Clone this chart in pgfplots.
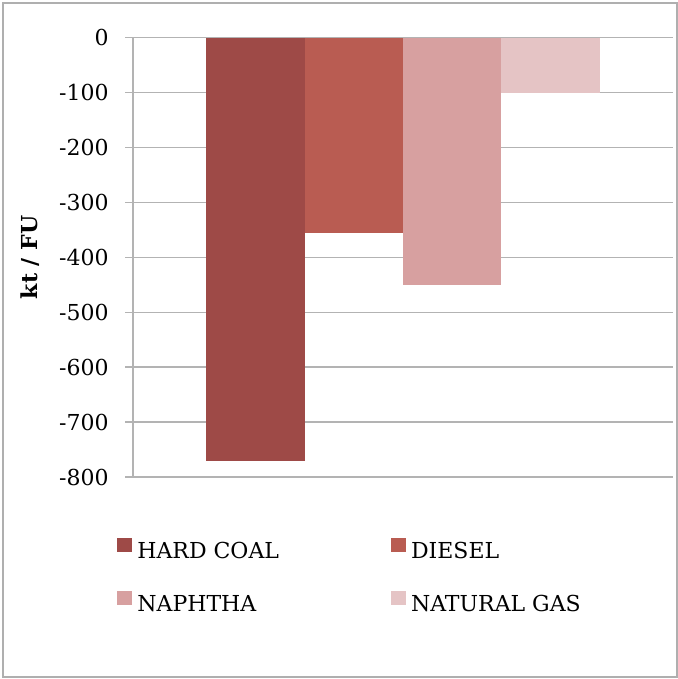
\documentclass[border=0pt]{standalone}
\usepackage{fontspec}
\setmainfont{DejaVu Serif}
\usepackage{pgfplots}
\pgfplotsset{compat=1.18}
\usetikzlibrary{calc}
\definecolor{coal}{HTML}{9E4A47}
\definecolor{diesel}{HTML}{B95C52}
\definecolor{naphtha}{HTML}{D7A0A0}
\definecolor{natgas}{HTML}{E5C4C5}
\definecolor{gridgray}{HTML}{B3B3B3}
\definecolor{framegray}{HTML}{AFAFAF}
\begin{document}
\fontsize{11pt}{13pt}\selectfont
\begin{tikzpicture}
\useasboundingbox (0,0) rectangle (339pt,339.5pt);
\draw[framegray, line width=1pt] (1.5pt,1pt) rectangle (338.5pt,338pt);
\begin{axis}[
  at={(66.5pt,101pt)}, anchor=south west,
  width=270pt, height=219.65pt, scale only axis,
  xmin=-0.246, xmax=5.247,
  ymin=-800, ymax=0,
  ytick={-800,-700,...,0},
  xtick=\empty,
  axis lines*=left,
  x axis line style={draw=none},
  y axis line style={gridgray, line width=0.75pt},
  ymajorgrids,
  major grid style={gridgray, line width=0.75pt},
  ytick style={gridgray, line width=0.75pt},
  tick align=outside,
  major tick length=4pt,
  /pgf/number format/assume math mode=true,
  yticklabel style={anchor=east, inner sep=0pt, xshift=-8pt, font=\fontsize{11pt}{13pt}\selectfont},
  every axis y label/.style={at={($(rel axis cs:0,0.5)+(-51.5pt,0)$)}, rotate=90, anchor=center},
  ylabel={\bfseries kt / FU},
  legend columns=2,
  legend cell align=left,
  legend image code/.code={\fill[#1] (0pt,0pt) rectangle (7.5pt,7pt);},
  legend style={
    draw=none, fill=none,
    at={(rel axis cs:0,0)}, anchor=north west,
    xshift=-8pt, yshift=-30.5pt,
    inner sep=0pt,
    font=\fontsize{11pt}{13pt}\selectfont,
    nodes={inner sep=0pt, text height=8pt, text depth=2pt},
    row sep=14.5pt,
    /tikz/every odd column/.append style={column sep=2.5pt},
    /tikz/every even column/.append style={column sep=56pt}
  },
  bar/.style={ybar, bar width=49.15pt, bar shift=0pt, draw=none}
]
\addplot[bar, fill=coal] coordinates {(1,-770)};
\addlegendentry{HARD COAL}
\addplot[bar, fill=diesel] coordinates {(2,-356)};
\addlegendentry{DIESEL}
\addplot[bar, fill=naphtha] coordinates {(3,-451)};
\addlegendentry{NAPHTHA}
\addplot[bar, fill=natgas] coordinates {(4,-101)};
\addlegendentry{NATURAL GAS}
\end{axis}
\end{tikzpicture}
\end{document}
